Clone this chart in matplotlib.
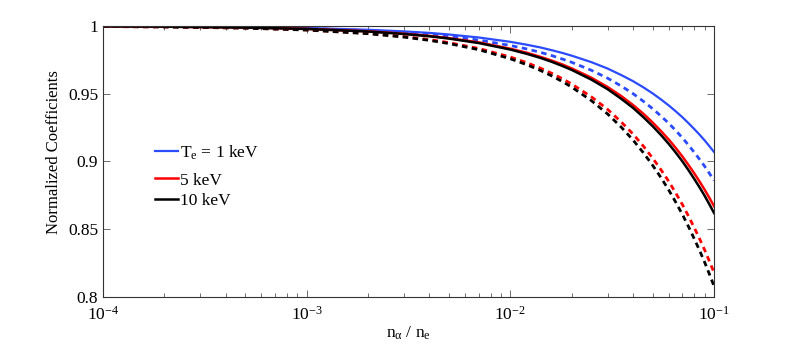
import matplotlib
matplotlib.use("Agg")
import matplotlib.pyplot as plt
from matplotlib.ticker import LogLocator, FixedLocator, NullFormatter

plt.rcParams['font.family'] = ['Liberation Serif', 'DejaVu Serif']
plt.rcParams['mathtext.fontset'] = 'custom'
plt.rcParams['mathtext.rm'] = 'Liberation Serif'
plt.rcParams['mathtext.it'] = 'Liberation Serif:italic'
plt.rcParams['mathtext.default'] = 'rm'

x = [1e-4, 2e-4, 5e-4, 1e-3, 2e-3, 3e-3, 4e-3, 5e-3, 7e-3, 1e-2,
     1.2e-2, 1.4e-2, 1.6e-2, 1.8e-2, 2e-2, 2.5e-2, 3e-2, 3.5e-2, 4e-2, 4.5e-2,
     5e-2, 5.5e-2, 6e-2, 6.5e-2, 7e-2, 7.5e-2, 8e-2, 8.5e-2, 9e-2, 9.5e-2, 1e-1]

blue_solid = [0.9998, 0.9997, 0.9992, 0.9985, 0.9972, 0.9960, 0.9949, 0.9937, 0.9915, 0.9883,
              0.9862, 0.9842, 0.9821, 0.9801, 0.9781, 0.9733, 0.9686, 0.9638, 0.9593, 0.9547,
              0.9502, 0.9457, 0.9413, 0.9369, 0.9326, 0.9282, 0.9239, 0.9197, 0.9155, 0.9112, 0.907]
blue_dashed = [0.9998, 0.9996, 0.9990, 0.9982, 0.9966, 0.9951, 0.9937, 0.9923, 0.9896, 0.9856,
               0.9831, 0.9806, 0.9781, 0.9756, 0.9732, 0.9673, 0.9615, 0.9557, 0.9501, 0.9444,
               0.9389, 0.9334, 0.9281, 0.9227, 0.9174, 0.9120, 0.9067, 0.9015, 0.8964, 0.8911, 0.886]
red_solid = [0.9997, 0.9995, 0.9989, 0.9979, 0.9961, 0.9943, 0.9927, 0.9910, 0.9879, 0.9832,
             0.9803, 0.9773, 0.9744, 0.9716, 0.9687, 0.9618, 0.9550, 0.9483, 0.9417, 0.9352,
             0.9287, 0.9223, 0.9161, 0.9098, 0.9036, 0.8973, 0.8912, 0.8851, 0.8791, 0.8730, 0.867]
black_solid = [0.9997, 0.9995, 0.9988, 0.9978, 0.9959, 0.9941, 0.9924, 0.9907, 0.9874, 0.9826,
               0.9795, 0.9765, 0.9735, 0.9705, 0.9676, 0.9604, 0.9534, 0.9463, 0.9396, 0.9327,
               0.9260, 0.9194, 0.9129, 0.9064, 0.9000, 0.8935, 0.8871, 0.8808, 0.8746, 0.8682, 0.862]
red_dashed = [0.9996, 0.9993, 0.9985, 0.9971, 0.9946, 0.9922, 0.9900, 0.9877, 0.9834, 0.9771,
              0.9730, 0.9690, 0.9650, 0.9611, 0.9572, 0.9477, 0.9385, 0.9292, 0.9203, 0.9113,
              0.9024, 0.8937, 0.8852, 0.8765, 0.8681, 0.8595, 0.8511, 0.8428, 0.8346, 0.8262, 0.818]
black_dashed = [0.9996, 0.9993, 0.9984, 0.9970, 0.9943, 0.9918, 0.9894, 0.9870, 0.9825, 0.9758,
                0.9715, 0.9673, 0.9631, 0.9590, 0.9549, 0.9449, 0.9351, 0.9254, 0.9159, 0.9064,
                0.8971, 0.8879, 0.8788, 0.8697, 0.8608, 0.8518, 0.8429, 0.8342, 0.8255, 0.8167, 0.808]

labels = ['T$_{\\mathrm{e}}$ = 1 keV', '5 keV', '10 keV']
yticks = [0.8, 0.85, 0.9, 0.95, 1.0]
ytick_labels = ['0.8', '0.85', '0.9', '0.95', '1']

BLUE = '#2a4bff'
RED = '#ff0000'
BLACK = '#000000'

fig = plt.figure(figsize=(7.89, 3.51), dpi=100)
ax = fig.add_axes([0.1305, 0.1538, 0.7745, 0.7722])

dash = (0, (2.0, 1.6))
ax.plot(x, blue_dashed, color=BLUE, lw=2.0, linestyle=dash)
ax.plot(x, red_dashed, color=RED, lw=2.0, linestyle=dash)
ax.plot(x, black_dashed, color=BLACK, lw=2.0, linestyle=dash)
h1, = ax.plot(x, blue_solid, color=BLUE, lw=1.6, label=labels[0])
h2, = ax.plot(x, red_solid, color=RED, lw=1.8, label=labels[1])
h3, = ax.plot(x, black_solid, color=BLACK, lw=1.8, label=labels[2])

ax.set_xscale('log')
ax.set_xlim(1e-4, 1e-1)
ax.set_ylim(0.8, 1.0)
ax.yaxis.set_major_locator(FixedLocator(yticks))
ax.set_yticklabels(ytick_labels)
ax.xaxis.set_major_locator(LogLocator(base=10, numticks=10))
ax.xaxis.set_minor_locator(LogLocator(base=10, subs=range(2, 10), numticks=20))
ax.xaxis.set_minor_formatter(NullFormatter())

ax.tick_params(which='both', direction='in', top=True, right=True, labelsize=12.5,
               color='#555555')
ax.tick_params(which='major', length=5, width=0.6)
ax.tick_params(which='minor', length=3, width=0.6)
ax.tick_params(axis='x', pad=6)
for s in ax.spines.values():
    s.set_linewidth(0.8)
    s.set_color('#333333')

ax.set_xlabel('n$_{\\alpha}$ / n$_{\\mathrm{e}}$', fontsize=12.5, labelpad=1)
ax.set_ylabel('Normalized Coefficients', fontsize=12)
ax.yaxis.set_label_coords(-0.067, 0.536)

leg_kw = dict(frameon=False, fontsize=12.5, handlelength=1.3, handletextpad=0.15,
              labelspacing=0.25, borderpad=0.0, borderaxespad=0.0,
              bbox_transform=fig.transFigure)
leg1 = ax.legend(handles=[h1], loc='center left', bbox_to_anchor=(0.1965, 0.5655), **leg_kw)
ax.add_artist(leg1)
leg2 = ax.legend(handles=[h2, h3], loc='center left', bbox_to_anchor=(0.1965, 0.4567), **leg_kw)

fig.savefig('out.png', dpi=100)
